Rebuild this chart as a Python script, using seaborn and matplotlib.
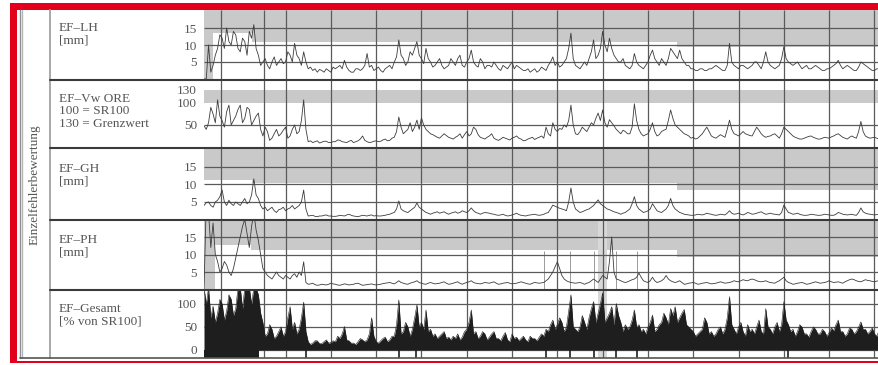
import numpy as np
import pandas as pd
import seaborn as sns
import matplotlib.pyplot as plt
from matplotlib.patches import Rectangle
from matplotlib.lines import Line2D

W, H = 879, 365

# sample positions along the track [km], one value every 50 m
km_start, km_step, n_pts = 0.2, 0.05, 299

ef_lh = [0, 0, 10, 2, 4, 7, 9, 13, 12, 9, 15, 11, 10, 14, 13, 9, 8, 12, 11, 7, 14, 12, 16, 9,
         7, 4, 5, 6, 4, 3, 5, 6.5, 4, 5, 6, 4.5, 5, 8, 7, 5, 10.5, 7, 6, 4, 8, 5,
         3, 3.5, 2.5, 3, 2, 2.8, 2.5, 2, 3, 2.5, 2, 3.5, 3, 3.5, 4, 3, 5.5, 3.5, 2.5, 2, 2, 3, 3, 2.5,
         3, 4, 7.5, 3.5, 4, 2.5, 3, 3.5, 2.5, 2, 3, 3.5, 4, 3, 5, 6.5, 11.5, 7, 6, 4, 5, 8, 7, 9, 11, 7, 6, 4.5, 9, 6,
         5, 3.5, 4, 5, 6, 4, 3, 3.5, 4, 6, 5, 4, 6, 7, 4, 3.5, 5, 6, 8.5, 5, 4, 3.5, 6, 5, 3, 4, 4, 3.5, 5, 4,
         3, 2.5, 4, 3.5, 3, 4, 5, 3, 4, 3.5, 3, 2.5, 2.5, 3, 2, 2.5, 3, 2, 2.5, 3.5, 3, 2.5, 4, 5, 6.5, 4, 5, 3.5, 4, 5,
         6, 9, 13.5, 6, 4, 3.5, 3, 4, 5, 4, 6, 8, 11.5, 6, 7, 9, 14, 10, 8, 12, 9, 7, 6, 5, 5, 6, 4, 3.5, 3, 4,
         7.5, 5, 4, 3.5, 3, 4, 5, 7, 8.5, 6, 5, 4, 6, 5, 4, 6, 9, 8, 7, 6, 8.5, 6, 5, 4, 4, 3, 3, 2.5, 2.5, 3,
         3, 2.5, 2.5, 3, 3, 3.5, 4, 3.5, 3, 2.5, 2.5, 4, 10.5, 5, 4, 3.5, 3, 4, 4, 3.5, 3, 3.5, 4, 5, 5, 4, 3, 5, 8, 5,
         4, 3.5, 3, 3.5, 4, 6, 9.5, 6, 5, 4.5, 4, 4.5, 5, 4, 3, 3.5, 4, 3, 3, 3.5, 4, 3.5, 3, 2.5, 2.5, 3, 3, 3.5, 4, 4.5,
         5.5, 4, 3, 3.5, 4, 3.5, 3, 2.5, 2.5, 3.5, 5, 4.5, 4, 3.5, 3, 2.5, 2.5, 3, 3]

ef_vw = [48, 40, 55, 90, 75, 55, 107, 70, 60, 45, 80, 95, 50, 60, 70, 85, 95, 55, 65, 90, 85, 50, 60, 70,
         77, 40, 25, 45, 35, 15, 20, 30, 40, 25, 30, 38, 45, 20, 25, 40, 50, 30, 35, 60, 107, 40,
         12, 14, 10, 12, 14, 9, 11, 13, 13, 10, 10, 12, 12, 16, 15, 12, 11, 10, 13, 15,
         10, 12, 14, 18, 25, 15, 12, 10, 11, 13, 14, 12, 13, 16, 18, 14, 15, 20, 22, 35,
         68, 45, 30, 35, 40, 55, 35, 45, 61, 40, 66, 50, 40, 35, 30, 28, 25, 22, 20, 25, 30, 26, 22, 20,
         18, 22, 25, 30, 20, 28, 35, 25, 30, 45, 40, 28, 22, 20, 18, 22, 25, 30, 20, 17,
         15, 18, 22, 20, 18, 16, 20, 22, 25, 20, 18, 14, 15, 18, 20, 22, 17, 20, 22, 25,
         20, 45, 30, 25, 55, 40, 35, 42, 40, 50, 45, 60, 95, 50, 30, 28, 35, 45, 40, 35, 45, 55, 50, 65, 77, 60,
         84, 55, 45, 62, 55, 48, 40, 35, 30, 38, 35, 30, 30, 45, 98, 60, 40, 30, 25, 28, 30, 40, 55, 35, 25, 28, 35, 38, 40, 60,
         84, 65, 50, 45, 40, 35, 30, 28, 25, 20, 22, 18, 20, 25, 30, 38, 45, 35, 25, 22, 20, 24, 28, 25, 22, 40,
         61, 40, 30, 28, 25, 30, 35, 30, 28, 26, 25, 35, 45, 38, 30, 25, 22, 24, 25, 28, 30, 25, 20, 30, 45, 40, 35, 30,
         25, 22, 20, 18, 18, 20, 22, 24, 25, 22, 20, 18, 18, 20, 22, 21, 20, 23, 25, 28, 30, 26, 22, 20, 18, 22, 25, 22, 20, 35,
         58, 35, 25, 22, 20, 21, 22, 20, 18]

ef_gh = [4, 4.8, 5, 4, 3.5, 5, 5.5, 6.5, 8.4, 5, 4, 5.5, 4.5, 4, 5, 4.5, 4, 5, 6, 4.5, 5, 7, 11.6, 7, 6, 4,
         3, 3.5, 2.5, 3, 3.5, 2.5, 2, 2.8, 3, 3.5, 2.5, 3, 3.3, 4, 3, 3.5, 4, 5, 8.4, 3,
         1, 1.1, 1.2, 0.9, 0.8, 1, 1, 1.2, 1.3, 1, 1, 0.9, 0.9, 1, 1.2, 1.1, 1, 1.3, 1.5, 1.2,
         1, 0.9, 0.8, 1, 1.2, 1.1, 1, 1.2, 1.3, 1, 1.1, 1, 1, 1.1, 1.2, 1.4, 1.5, 1.8, 2, 3,
         5.3, 3, 2.5, 2.2, 2, 2.5, 3, 3.5, 4.7, 3.5, 3, 2.5, 2, 1.8, 1.5, 1.8, 2, 2.2, 1.8, 2, 2.2, 1.8, 1.5, 1.8,
         2, 2.2, 1.8, 2, 2.5, 2.2, 2, 2.5, 3.3, 2.5, 2, 1.8, 1.5, 1.8, 2, 1.9, 1.8, 1.6, 1.5, 1.3,
         1.2, 1.3, 1.5, 1.2, 1, 1.1, 1.3, 1.5, 1.8, 1.4, 1.2, 1.1, 1, 1.2, 1.3, 1.4, 1.5, 1.3, 1.2, 1.3,
         1.5, 1.8, 2, 3, 4.1, 3.8, 3.5, 3.2, 3, 2.8, 2.5, 5,
         9, 5, 3, 2.5, 2, 2.2, 2.5, 2.8, 3, 3.5, 4, 4.8, 5.6, 4.5, 4, 3.5, 3, 2.8, 2.5, 2.2, 2, 1.8, 1.5, 1.8, 2, 2.5, 3, 4.5,
         6.5, 4, 3, 2.5, 2, 2.2, 2.5, 3, 4.5, 3.5, 2.5, 2.2, 2, 2.5, 3, 4, 6, 4, 3, 2.5, 2, 1.8,
         1.5, 1.4, 1.3, 1.2, 1.2, 1.3, 1.5, 1.4, 1.3, 1.5, 1.8, 1.6, 1.5, 1.3, 1.2, 1.3, 1.5, 1.4, 1.3, 1.8,
         2.5, 1.8, 1.5, 1.6, 1.8, 1.5, 1.3, 1.6, 2, 1.8, 1.5, 1.6, 1.8, 2, 2.2, 1.8, 1.5, 1.6,
         1.8, 1.6, 1.5, 1.4, 1.3, 2, 4.1, 3, 2, 1.8,
         1.5, 1.6, 1.8, 1.5, 1.3, 1.2, 1.2, 1.3, 1.5, 1.4, 1.3, 1.2, 1.2, 1.3, 1.5, 1.4, 1.3, 1.2, 1.2, 1.5,
         2, 1.8, 1.5, 1.4, 1.3, 1.4, 1.5, 1.3, 1.2, 2, 3.3, 2.2, 1.8, 1.6, 1.5, 1.4, 1.3, 1.4, 1.5]

ef_ph = [0, 25, 22, 12, 19, 10, 8, 5, 6, 8, 7, 5, 4, 6, 9, 12, 15, 18, 20, 16, 12, 18, 22, 17, 14, 10, 6, 5,
         4, 3.5, 3, 4, 5, 4, 3.5, 3, 4, 3.5, 3, 4, 4.5, 3.5, 5, 4, 7.9, 2,
         1.5, 1.6, 1.8, 1.4, 1.2, 1.3, 1.5, 1.4, 1.3, 1.5, 1.8, 1.6, 1.5, 1.3, 1.2, 1.4, 1.6, 1.5, 1.3, 1.4,
         1.5, 1.7, 1.8, 1.5, 1.2, 1.3, 1.4, 1.5, 1.6, 1.4, 1.3, 1.4, 1.5, 1.7, 1.8, 1.9, 2, 1.8, 1.6, 2,
         2.5, 2, 1.8, 1.6, 1.5, 1.8, 2, 2.2, 2.5, 2, 1.8, 1.6, 1.5, 1.8, 2, 1.8, 1.6, 1.7, 1.8, 2, 2.2, 1.8, 1.5, 1.6,
         1.8, 2, 2.2, 1.8, 1.5, 1.8, 2, 2.2, 2.5, 2, 1.8, 1.7, 1.6, 1.8, 2, 1.9, 1.8, 2, 2.2, 1.8,
         1.5, 1.6, 1.8, 1.9, 2, 1.8, 1.6, 1.7, 1.8, 2, 2.2, 2, 1.8, 1.6, 1.5, 1.8, 2, 1.9, 1.8, 1.9,
         2, 2.5, 3, 4, 5, 6.5, 7.9, 6, 4, 3, 2.5, 2.2, 2, 1.9, 1.8, 1.9, 2, 1.8, 1.5, 1.8,
         2, 2.5, 3, 2.5, 2, 3, 4, 3.5, 3, 8, 15, 5, 3, 2.8, 2.5, 2.2, 2, 2.2, 2.5, 2.8,
         3, 3.5, 4.7, 3.5, 2.5, 2.2, 2, 2.5, 3.5, 2.5, 2, 2.2, 2.5, 3, 4, 3, 2.5, 2.2, 2, 2.2, 2.5, 2,
         1.5, 1.6, 1.8, 1.9, 2, 1.8, 1.5, 1.6, 1.8, 1.9, 2, 1.8, 1.6, 1.7, 1.8, 2, 2.2, 2, 1.8, 1.9,
         2, 2.2, 2.5, 2.3, 2.2, 2.5, 2.8, 2.6, 2.5, 2.8, 3, 2.8, 2.5, 2.3, 2.2, 2.3, 2.5, 2.2, 2, 1.9,
         1.8, 2.2, 2.5, 3, 3.5, 2.5, 2, 1.8,
         1.5, 1.6, 1.8, 1.9, 2, 1.8, 1.5, 1.6, 1.8, 2, 2.2, 2, 1.8, 1.9, 2, 2.2, 2.5, 2.2, 2, 2.1,
         2.2, 2, 1.8, 2.2, 2.5, 2.8, 3, 2.8, 2.5, 2.3, 2.2, 2.5, 2.8, 2.6, 2.5, 2.3, 2.2, 2.4, 2.5]

ef_gesamt = [135, 100, 135, 70, 95, 60, 80, 110, 100, 65, 85, 120, 110, 75, 90, 135, 135, 90, 135, 135,
             135, 100, 135, 135, 120, 80,
             59, 30, 35, 55, 45, 25, 30, 40, 50, 30, 40, 70, 94, 45, 60, 35, 45, 70, 104, 40,
             18, 12, 15, 20, 20, 14, 14, 18, 22, 15, 16, 20, 18, 30, 25, 35, 51, 22, 20, 15,
             15, 12, 18, 25, 22, 18, 22, 35, 70, 30, 18, 15, 20, 25, 28, 18, 22, 30, 30, 55,
             109, 35, 40, 60, 50, 30, 45, 70, 98, 50, 60, 45, 87, 40, 45, 30, 35, 25, 30, 35, 40, 25, 28, 22,
             30, 25, 35, 22, 28, 40, 45, 60, 87, 35, 40, 25, 30, 40, 35, 22, 28, 35, 40, 25,
             25, 20, 30, 38, 22, 18, 35, 25, 28, 20, 25, 30, 22, 18, 30, 25, 25, 20, 28, 35,
             30, 45, 40, 55, 65, 45, 55, 70, 60, 40, 50, 85,
             120, 50, 45, 40, 50, 75, 60, 45, 70, 90, 105, 60, 80, 100, 124, 60, 70, 80, 94, 55,
             101, 75, 60, 40, 55, 45, 50, 65,
             87, 50, 55, 40, 45, 35, 50, 60, 76, 40, 45, 55, 60, 80, 70, 55, 90, 75, 94, 60,
             70, 80, 88, 55, 50, 45, 40, 30, 35, 40,
             45, 70, 60, 35, 40, 30, 35, 45, 50, 35, 45, 70,
             116, 55, 45, 35, 50, 60, 40, 30, 55, 40, 45, 35, 50, 65, 40, 35, 90, 50,
             45, 35, 50, 60, 40, 55, 105, 65, 55, 40,
             45, 30, 40, 55, 50, 35, 35, 28, 40, 50, 45, 35, 35, 45, 40, 30, 38, 48, 42, 55,
             65, 40, 40, 30, 35, 48, 45, 35, 40, 50, 61, 45, 45, 35, 40, 48, 35, 30, 42]

for name, s in [("lh", ef_lh), ("vw", ef_vw), ("gh", ef_gh), ("ph", ef_ph), ("ges", ef_gesamt)]:
    assert len(s) == n_pts, (name, len(s))

km = km_start + km_step * np.arange(n_pts)
df = pd.DataFrame({"km": km, "lh": ef_lh, "vw": ef_vw, "gh": ef_gh, "ph": ef_ph, "ges": ef_gesamt})

# tolerance bands (grey): step boundaries in km and lower limit of the band
lh_band_km = [0.2, 0.4, 1.26, 10.64, 15.1]
lh_band_lo = [-0.3, 13.5, 10.9, 9.4]
gh_band_km = [0.2, 1.26, 10.64, 15.1]
gh_band_lo = [11.3, 10.3, 8.3]
ph_band_km = [0.2, 0.44, 1.24, 10.64, 15.1]
ph_band_lo = [-0.2, 12.7, 11.3, 9.4]
vw_band = (100, 130)

grid_km = [0.57, 1.52] + list(range(2, 16))
event_km = [7.71, 8.28, 8.81, 9.29, 9.76]
low_marks_km = [2.45, 4.5, 4.88, 7.75, 8.28, 8.81, 9.29, 9.76, 13.09]

sns.set_style("white")
plt.rcParams["font.family"] = ["Liberation Serif", "DejaVu Serif"]
txt_col = "#555555"
grid_col = "#5a5a5a"
band_col = "#c9c9c9"
line_col = "#3c3c3c"
red = "#e3001b"

fig = plt.figure(figsize=(W / 100, H / 100), dpi=100)


def panel(top, bottom, ylim):
    ax = fig.add_axes([204 / W, 1 - bottom / H, 675 / W, (bottom - top) / H])
    ax.set_xlim(0.2, 15.1)
    ax.set_ylim(*ylim)
    for s in ax.spines.values():
        s.set_visible(False)
    ax.set_xticks([])
    ax.tick_params(axis="y", length=0, pad=5, labelsize=9.5, labelcolor=txt_col)
    ax.vlines(grid_km, *ylim, color=grid_col, lw=0.9, zorder=1)
    return ax


def band(ax, edges, lows, top):
    ax.fill_between(edges, lows + [lows[-1]], top, step="post", color=band_col, lw=0, zorder=0)


# EF-LH
ax1 = panel(10, 80, (-0.3, 20.3))
band(ax1, lh_band_km, lh_band_lo, 20.3)
ax1.hlines([5, 10, 15], 0.2, 15.1, color=grid_col, lw=0.9, zorder=1)
sns.lineplot(data=df, x="km", y="lh", ax=ax1, color=line_col, lw=0.6, zorder=3)
ax1.set_yticks([5, 10, 15], ["5", "10", "15"])

# EF-Vw ORE
ax2 = panel(80, 148, (-2.3, 152))
ax2.fill_between([0.2, 15.1], vw_band[0], vw_band[1], color=band_col, lw=0, zorder=0)
ax2.hlines([50], 0.2, 15.1, color=grid_col, lw=0.9, zorder=1)
sns.lineplot(data=df, x="km", y="vw", ax=ax2, color=line_col, lw=0.6, zorder=3)
ax2.set_yticks([50, 100, 130], ["50", "100", "130"])

# EF-GH
ax3 = panel(148, 219.5, (0, 20.4))
band(ax3, gh_band_km, gh_band_lo, 20.4)
ax3.hlines([5, 10, 15], 0.2, 15.1, color=grid_col, lw=0.9, zorder=1)
sns.lineplot(data=df, x="km", y="gh", ax=ax3, color=line_col, lw=0.6, zorder=3)
ax3.set_yticks([5, 10, 15], ["5", "10", "15"])

# EF-PH
ax4 = panel(219.5, 290, (-0.14, 20))
band(ax4, ph_band_km, ph_band_lo, 20)
ax4.axvspan(8.9, 9.1, color="#d8d8d8", lw=0, zorder=0.5)
ax4.vlines(event_km, 0, 11, color="#8a8a8a", lw=0.6, zorder=1)
ax4.hlines([5, 10, 15], 0.2, 15.1, color=grid_col, lw=0.9, zorder=1)
sns.lineplot(data=df, x="km", y="ph", ax=ax4, color=line_col, lw=0.6, zorder=3)
ax4.set_yticks([5, 10, 15], ["5", "10", "15"])

# EF-Gesamt
ax5 = panel(290, 358, (-17.4, 130.4))
ax5.axvspan(8.9, 9.1, color="#d8d8d8", lw=0, zorder=0.5)
ax5.hlines([0, 50, 100], 0.2, 15.1, color=grid_col, lw=0.9, zorder=1)
ax5.fill_between(df["km"], 0, df["ges"], color="#1e1e1e", lw=0, zorder=2)
sns.lineplot(data=df, x="km", y="ges", ax=ax5, color="#1e1e1e", lw=0.4, zorder=3)
ax5.fill_between([0.2, 1.42], -17.4, 0, color="#1e1e1e", lw=0, zorder=2)
ax5.vlines(low_marks_km, -17.4, 0, color="#1e1e1e", lw=1.2, zorder=2)
ax5.set_yticks([0, 50, 100], ["0", "50", "100"])

for ax in (ax1, ax2, ax3, ax4, ax5):
    ax.set_xlabel("")
    ax.set_ylabel("")

# panel labels
labels = [(22, "EF–LH\n[mm]"),
          (93, "EF–Vw ORE\n100 = SR100\n130 = Grenzwert"),
          (163, "EF–GH\n[mm]"),
          (234, "EF–PH\n[mm]"),
          (303, "EF–Gesamt\n[% von SR100]")]
for y, t in labels:
    fig.text(59 / W, 1 - y / H, t, ha="left", va="top", fontsize=9.5, color=txt_col, linespacing=1.05)

fig.text(35 / W, 1 - 185 / H, "Einzelfehlerbewertung", rotation=90, ha="center", va="center",
         fontsize=9.5, color=txt_col)


def fline(x0, x1, y0, y1, **kw):
    fig.add_artist(Line2D([x0 / W, x1 / W], [1 - y0 / H, 1 - y1 / H], transform=fig.transFigure, **kw))


# frame
fline(20, 20, 10, 358, color="#8f8f8f", lw=1.0)
fline(22.5, 22.5, 10, 358, color="#b5b5b5", lw=1.0)
fline(50, 50, 10, 358, color="#a8a8a8", lw=1.4)
for y in (80, 148, 219.5, 290):
    fline(50, W, y, y, color="#3a3a3a", lw=1.5)
fline(20, W, 358, 358, color="#555555", lw=1.2)

fig.add_artist(Rectangle((10 / W, 1 - 10 / H), (W - 10) / W, 7 / H, transform=fig.transFigure,
                         color=red, lw=0))
fig.add_artist(Rectangle((10 / W, 1 - 363 / H), 7.5 / W, 360 / H, transform=fig.transFigure,
                         color=red, lw=0))
fig.add_artist(Rectangle((10 / W, 1 - 363 / H), (W - 10) / W, 2 / H, transform=fig.transFigure,
                         color=red, lw=0))

fig.savefig("out.png", dpi=100)
